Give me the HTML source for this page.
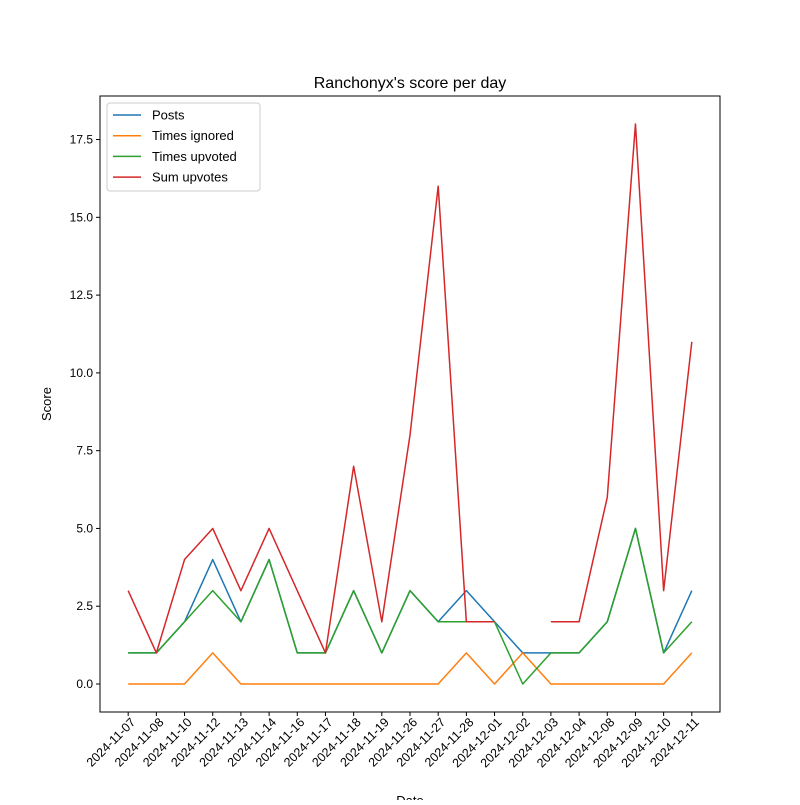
<!DOCTYPE html>
<html><head><meta charset="utf-8"><style>body{margin:0;background:#fff}svg{font-family:"Liberation Sans","DejaVu Sans",sans-serif}</style></head>
<body>
<svg id="chart" width="800" height="800" xmlns="http://www.w3.org/2000/svg">
<rect width="800" height="800" fill="#fff"/>
<text x="410" y="88" text-anchor="middle" font-size="16">Ranchonyx's score per day</text>
<g id="plot"></g>
<rect x="100" y="96" width="620" height="616" fill="none" stroke="#000" stroke-width="1"/>
<text x="410" y="805" text-anchor="middle" font-size="13">Date</text>
<text transform="translate(51,404) rotate(-90)" text-anchor="middle" font-size="13">Score</text>
</svg>
<script>
const categories=["2024-11-07","2024-11-08","2024-11-10","2024-11-12","2024-11-13","2024-11-14","2024-11-16","2024-11-17","2024-11-18","2024-11-19","2024-11-26","2024-11-27","2024-11-28","2024-12-01","2024-12-02","2024-12-03","2024-12-04","2024-12-08","2024-12-09","2024-12-10","2024-12-11"];
const posts=[1,1,2,4,2,4,1,1,3,1,3,2,3,2,1,1,1,2,5,1,3];
const timesIgnored=[0,0,0,1,0,0,0,0,0,0,0,0,1,0,1,0,0,0,0,0,1];
const timesUpvoted=[1,1,2,3,2,4,1,1,3,1,3,2,2,2,0,1,1,2,5,1,2];
const sumUpvotes=[3,1,4,5,3,5,3,1,7,2,8,16,2,2,null,2,2,6,18,3,11];
const yTicks=[0,2.5,5,7.5,10,12.5,15,17.5];
const seriesNames=["Posts","Times ignored","Times upvoted","Sum upvotes"];
const NS="http://www.w3.org/2000/svg";
const L=100,R=720,T=96,B=712,xmin=-1,xmax=categories.length,ymin=-0.9,ymax=18.9;
const xs=i=>L+(i-xmin)/(xmax-xmin)*(R-L);
const ys=v=>B-(v-ymin)/(ymax-ymin)*(B-T);
const g=document.getElementById('plot');
function mk(t,a){const e=document.createElementNS(NS,t);for(const k in a)e.setAttribute(k,a[k]);g.appendChild(e);return e;}
yTicks.forEach(v=>{const y=ys(v);
 const l=mk('line',{x1:L-4,x2:L,y1:y,y2:y,stroke:'#000'});
 
 
 const t=mk('text',{x:L-7,y:y+4,'text-anchor':'end','font-size':'12'});t.textContent=v.toFixed(1);
 
 
});
categories.forEach((c,i)=>{const x=xs(i);
 const l=mk('line',{x1:x,x2:x,y1:B,y2:B+4,stroke:'#000'});
 
 
 const t=mk('text',{x:0,y:0,'text-anchor':'end','font-size':'12.5',transform:`translate(${x+8},${B+11}) rotate(-45)`});t.textContent=c;
 
 
});
const colors=["#1f77b4","#ff7f0e","#2ca02c","#d62728"];
[posts,timesIgnored,timesUpvoted,sumUpvotes].forEach((s,k)=>{
 let d="",pen=false;
 s.forEach((v,i)=>{if(v===null){pen=false;return;}d+=(pen?"L":"M")+xs(i)+","+ys(v)+" ";pen=true;});
 const p=mk('path',{d:d,fill:'none',stroke:colors[k],'stroke-width':1.5,'stroke-linejoin':'round'});
 
 
});
const lg=mk('rect',{x:107,y:103,width:153,height:88,fill:'#fff',stroke:'#ccc',rx:3});


seriesNames.forEach((n,k)=>{const y=115+k*20.7;
 const l=mk('line',{x1:113,x2:141,y1:y,y2:y,stroke:colors[k],'stroke-width':1.5});
 
 
 const t=mk('text',{x:152,y:y+4.5,'font-size':'13'});t.textContent=n;
 
 
});
</script>
</body></html>
